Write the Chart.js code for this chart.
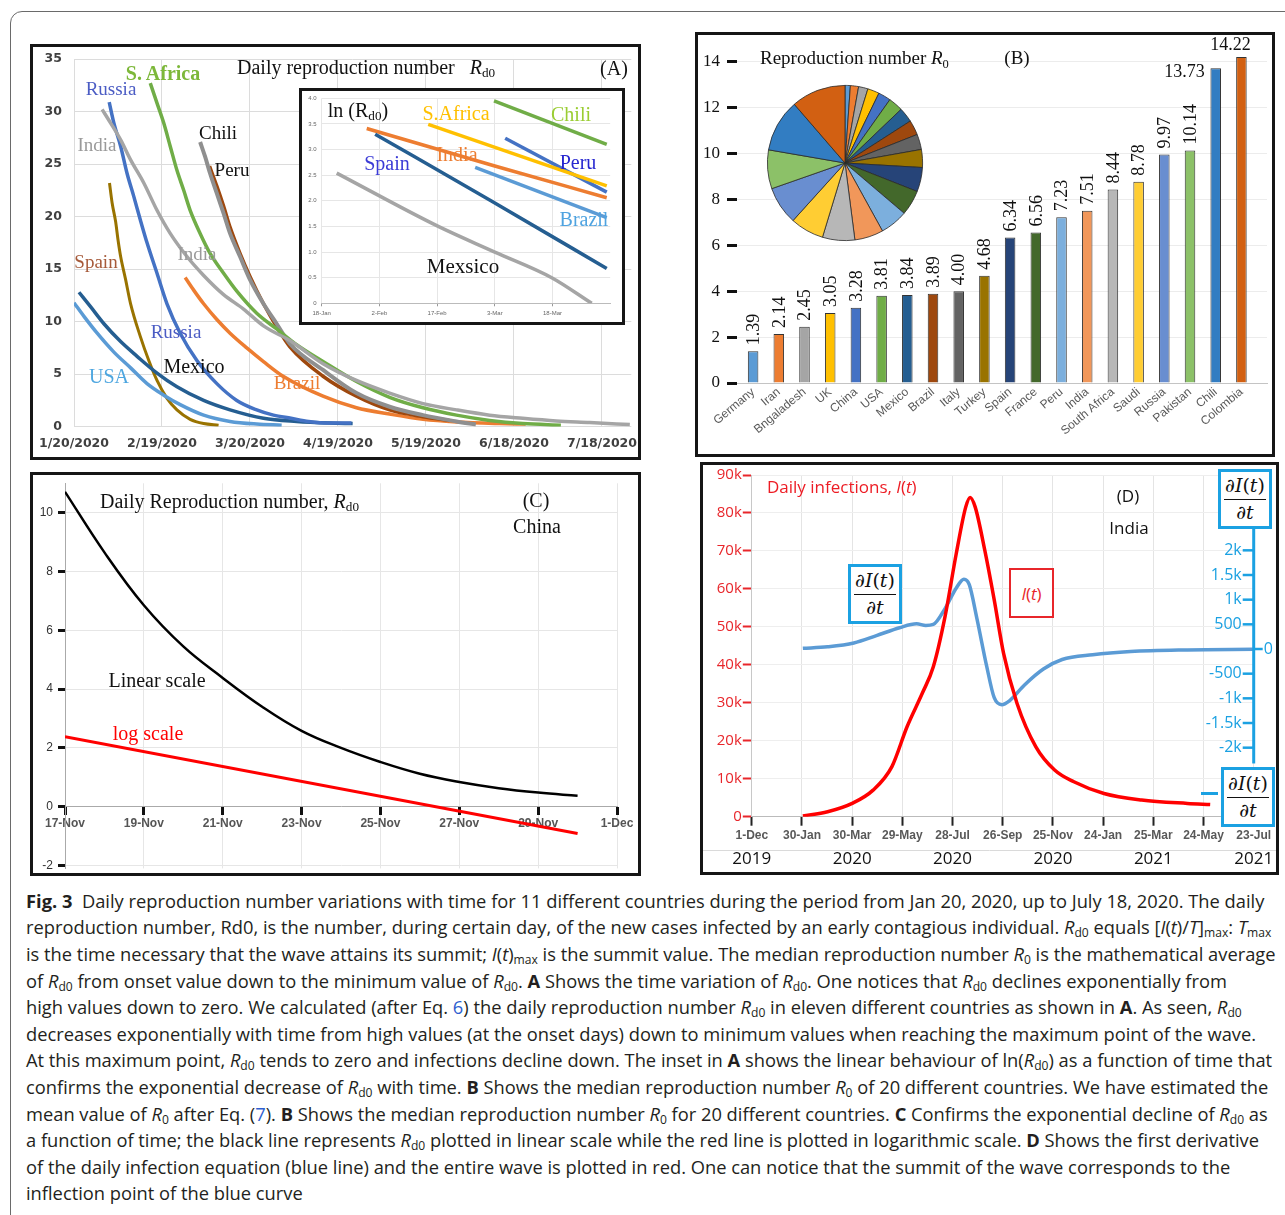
<!DOCTYPE html>
<html>
<head>
<meta charset="utf-8">
<title>Fig. 3 - daily reproduction number</title>
<script src="https://cdn.jsdelivr.net/npm/chart.js@4.4.1/dist/chart.umd.min.js"></script>
<style>
  html, body { margin: 0; padding: 0; background: #fff; }
  #page { position: relative; width: 1285px; height: 1215px; overflow: hidden; background: #fff; }
  .frame { position: absolute; left: 10px; top: 11px; width: 1320px; height: 1320px; border: 1px solid #6a6a6a; border-radius: 12px; }
  .panel { position: absolute; box-sizing: border-box; border: 3px solid #161616; background: #fff; }
  canvas { position: absolute; }
  .t { position: absolute; white-space: nowrap; line-height: 1; transform: translate(-50%, -50%); }
  .t sub, .cap sub { font-size: 0.66em; vertical-align: -0.28em; line-height: 0; }
  .frac { position: absolute; box-sizing: border-box; border: 3px solid #1ba1e2; background: #fff;
          display: flex; flex-direction: column; align-items: center; justify-content: center;
          font-family: "DejaVu Serif", serif; font-size: 19px; color: #111; line-height: 1; }
  .frac .fl { width: 86%; height: 1.5px; background: #111; margin: 4px 0 3px; }
  .box { position: absolute; box-sizing: border-box; border: 2.5px solid #e8262b; background: #fff;
         display: flex; align-items: center; justify-content: center;
         font-family: "Open Sans", sans-serif; font-size: 17px; color: #e8262b; }
  .cap { position: absolute; left: 26px; white-space: nowrap; line-height: 1; color: #231f20;
         font-family: "Open Sans", sans-serif; font-size: 19px; }
  .cap .ref { color: #2f5fd0; }
</style>
</head>
<body>
<div id="page">
  <div class="frame"></div>

  <div class="panel" style="left:30px;top:44px;width:611px;height:416px"></div>
  <canvas id="chartA" width="605" height="410" style="left:33px;top:47px"></canvas>
  <div class="panel" style="left:299px;top:88px;width:326px;height:237px"></div>
  <canvas id="chartInset" width="320" height="231" style="left:302px;top:91px"></canvas>

  <div class="panel" style="left:695px;top:32px;width:580px;height:425px"></div>
  <canvas id="chartB" width="574" height="419" style="left:698px;top:35px"></canvas>
  <canvas id="chartPie" width="158" height="158" style="left:766px;top:84px"></canvas>

  <div class="panel" style="left:30px;top:472px;width:611px;height:404px"></div>
  <canvas id="chartC" width="605" height="398" style="left:33px;top:475px"></canvas>

  <div class="panel" style="left:700px;top:462px;width:579px;height:413px"></div>
  <canvas id="chartD" width="573" height="407" style="left:703px;top:465px"></canvas>
</div>

<script>
// ---------- Panel A: daily reproduction number, days after 20 Jan 2020 ----------
const aTickDays = [0, 30, 60, 90, 120, 150, 180];
const aTickLabels = ["1/20/2020", "2/19/2020", "3/20/2020", "4/19/2020", "5/19/2020", "6/18/2020", "7/18/2020"];

const spainA = [[12.1,23.2],[13.0,21.3],[14.2,19.5],[15.0,17.8],[15.9,16.2],[17.6,14.0],[19.3,11.7],[22.6,8.6],[25.5,6.3],[28.3,4.4],[31.7,2.7],[35.1,1.6],[39.6,0.7],[44.2,0.3],[49.3,0.15]];
const russiaA = [[12.0,30.9],[13.6,28.9],[15.9,26.7],[18.1,24.1],[20.4,21.9],[22.6,19.7],[24.9,17.5],[28.3,14.6],[31.7,11.7],[36.2,8.9],[41.9,6.3],[48.7,4.1],[55.5,2.5],[62.3,1.6],[68,1.1],[74,0.8],[80,0.5],[87,0.35],[94.6,0.35]];
const mexicoA = [[1.7,12.8],[5.7,11.4],[10.2,9.8],[15.9,8.1],[21.5,6.7],[28.3,5.1],[35.1,3.8],[44.2,2.5],[53.2,1.6],[64.6,0.8],[75.9,0.5],[87.2,0.35],[95,0.3]];
const usaA = [[0,11.8],[3.4,10.5],[7.9,8.9],[13.6,7.1],[19.3,5.6],[24.9,4.1],[30.6,3.0],[36.2,2.1],[44.2,1.1],[53.2,0.5],[62.3,0.25],[70.8,0.15]];
const indiaA = [[9.6,30.2],[12.5,28.9],[15.9,27.3],[19.3,25.4],[23.8,23.2],[28.3,20.6],[32.8,18.4],[38.5,16.2],[44.2,14.4],[50.9,12.6],[57.8,11.2],[64.6,9.6],[73.6,8.2],[84.9,6.0],[96.3,4.4],[107.6,3.2],[119,2.2],[130.4,1.6],[141.7,1.1],[153,0.8],[164.4,0.55],[175.8,0.4],[189.5,0.2]];
const sAfricaA = [[26,32.7],[28.3,30.8],[30.6,28.9],[32.8,26.7],[35.1,24.4],[37.4,22.5],[39.6,20.6],[43,18.4],[46.4,16.5],[51,14.6],[55.5,12.9],[62.3,10.8],[69.1,9.3],[75.9,7.8],[84.9,6.2],[96.3,4.3],[107.6,2.8],[119,1.8],[130.4,1.1],[141.7,0.6],[153,0.3],[166,0.15]];
const chiliA = [[43,27.1],[44.7,25.7],[46.4,24.1],[48.7,22.2],[51,20.3],[53.2,18.4],[56.6,16.2],[60,14.0],[64.6,11.7],[69.1,9.8],[73.6,7.9],[84.9,5.4],[96.3,3.2],[107.6,1.9],[119,1.1],[130.4,0.5],[137,0.2]];
const peruA = [[46.2,24.8],[48.7,22.9],[51,21.0],[53.2,19.0],[56.6,16.5],[60,14.3],[64.6,11.7],[69.1,9.5],[73.6,7.6],[84.9,4.8],[96.3,2.9],[107.6,1.6],[119,0.95],[128,0.6]];
const brazilA = [[37.9,14.2],[40.8,13.0],[44.2,11.7],[48.7,10.2],[53.2,8.9],[58.9,7.5],[64.6,6.2],[71.3,4.8],[84.9,2.9],[96.3,1.8],[107.6,1.2],[119,0.7],[130.4,0.45],[145,0.3],[154,0.25]];

// ---------- Inset: ln(Rd0), days after 18 Jan ----------
const insetTickDays = [0, 15, 30, 45, 60];
const insetTickLabels = ["18-Jan", "2-Feb", "17-Feb", "3-Mar", "18-Mar"];
const lnMexico = [[3.9,2.54],[30.3,1.5],[45,1.0],[59.8,0.5],[70.2,0.0]];
const lnSpain = [[13.9,3.30],[44,2.0],[74.1,0.68]];
const lnIndia = [[11.7,3.41],[45,2.68],[74.1,2.06]];
const lnSAfrica = [[27.7,3.49],[74.1,2.29]];
const lnChili = [[44.8,3.95],[74.1,3.10]];
const lnPeru = [[47.7,3.22],[74.1,2.17]];
const lnBrazil = [[39.9,2.65],[74.1,1.67]];

// ---------- Panel B: median reproduction number R0 ----------
const countries = ["Germany", "Iran", "Bngaladesh", "UK", "China", "USA", "Mexico", "Brazil", "Italy", "Turkey",
  "Spain", "France", "Peru", "India", "South Africa", "Saudi", "Russia", "Pakistan", "Chili", "Colombia"];
const r0 = [1.39, 2.14, 2.45, 3.05, 3.28, 3.81, 3.84, 3.89, 4.00, 4.68,
  6.34, 6.56, 7.23, 7.51, 8.44, 8.78, 9.97, 10.14, 13.73, 14.22];
const barColors = ["#5b9bd5", "#ed7d31", "#a5a5a5", "#ffc000", "#4472c4", "#70ad47", "#255e91", "#9e480e", "#636363", "#997300",
  "#264478", "#43682b", "#7cafdd", "#f1975a", "#b7b7b7", "#ffcd33", "#698ed0", "#8cc168", "#327dc2", "#d26012"];
const bYTicks = [0, 2, 4, 6, 8, 10, 12, 14];

// ---------- Panel C: China, days after 17 Nov ----------
const cTickDays = [0, 2, 4, 6, 8, 10, 12, 14];
const cTickLabels = ["17-Nov", "19-Nov", "21-Nov", "23-Nov", "25-Nov", "27-Nov", "29-Nov", "1-Dec"];
const cYTicks = [-2, 0, 2, 4, 6, 8, 10];
const cLinear = [[0,10.71],[1,8.65],[2,6.85],[3,5.45],[4,4.38],[5,3.4],[6,2.58],[7,2.0],[8,1.52],[9,1.12],[10,0.84],[11,0.63],[12,0.48],[13,0.37]];
const cLog = [[0,2.38],[13,-0.91]];

// ---------- Panel D: India, days after 1 Dec 2019 ----------
const dTickDays = [0, 60, 120, 180, 240, 300, 360, 420, 480, 540, 600];
const dTickLabels = ["1-Dec", "30-Jan", "30-Mar", "29-May", "28-Jul", "26-Sep", "25-Nov", "24-Jan", "25-Mar", "24-May", "23-Jul"];
const dYearDays = [0, 120, 240, 360, 480, 600];
const dYearLabels = ["2019", "2020", "2020", "2020", "2021", "2021"];
const dYTicks = [0, 10000, 20000, 30000, 40000, 50000, 60000, 70000, 80000, 90000];
const dYLabels = ["0", "10k", "20k", "30k", "40k", "50k", "60k", "70k", "80k", "90k"];
const dRightTicks = [2000, 1500, 1000, 500, 0, -500, -1000, -1500, -2000];
const dRightLabels = ["2k", "1.5k", "1k", "500", "0", "-500", "-1k", "-1.5k", "-2k"];
const dInfections = [[61,200],[90.6,1300],[120,3500],[145,7000],[167.5,13200],[185.6,23700],[203.8,32500],[217,39500],[231,52700],[244.5,69400],[255.8,81600],[261,84100],[267,81600],[278.5,70200],[289.8,57100],[301,43000],[317,29900],[339.6,18400],[362,12300],[385,9200],[421,6100],[466,4400],[520.7,3500],[548,3200]];
const dDerivative = [[61,13],[90.6,45],[122,123],[149,271],[176.6,432],[197,510],[208,477],[217,497],[231,819],[244.5,1238],[253.6,1412],[260,1303],[269,626],[280.7,-342],[289.8,-987],[298.8,-1129],[308,-1051],[326,-729],[348.6,-406],[371,-213],[407.5,-116],[452.8,-52],[520.7,-19],[600,-6]];

// ---------- Helpers ----------
Chart.defaults.animation = false;
Chart.defaults.events = [];
Chart.defaults.responsive = false;
Chart.defaults.maintainAspectRatio = false;
Chart.defaults.plugins.legend.display = false;
Chart.defaults.plugins.tooltip.enabled = false;
Chart.defaults.font.family = '"Liberation Sans", Arial, sans-serif';
Chart.defaults.color = "#333";

const SERIF = '"Liberation Serif", "Times New Roman", serif';
const BLUE_AXIS = "#1ba1e2";

function pts(arr) {
  return arr.map(([x, y]) => ({ x, y }));
}
function curve(arr, color, width, extra) {
  return Object.assign({
    data: pts(arr), borderColor: color, borderWidth: width,
    pointRadius: 0, cubicInterpolationMode: "monotone", fill: false,
  }, extra || {});
}
function setTicks(vals) {
  return (s) => { s.ticks = vals.map((v) => ({ value: v })); };
}
function labelFrom(vals, labels) {
  return (v) => labels[vals.indexOf(v)];
}
function fixY(w) {
  return (s) => { s.width = w; s.paddingTop = 0; s.paddingBottom = 0; };
}
function fixX(h) {
  return (s) => { s.height = h; s.paddingLeft = 0; s.paddingRight = 0; };
}

// ---------- Panel A ----------
const aFont = { family: '"DejaVu Sans", sans-serif', weight: "bold", size: 12.5 };
new Chart(document.getElementById("chartA"), {
  type: "line",
  data: {
    datasets: [
      curve(indiaA, "#a5a5a5", 3.5),
      curve(sAfricaA, "#70ad47", 3.5),
      curve(chiliA, "#8f8f8f", 4),
      curve(peruA, "#9e480e", 3.5),
      curve(brazilA, "#ed7d31", 3.5),
      curve(russiaA, "#4472c4", 3.5),
      curve(mexicoA, "#255e91", 3.5),
      curve(usaA, "#5b9bd5", 3.5),
      curve(spainA, "#997300", 3),
    ],
  },
  options: {
    layout: { padding: { top: 12, right: 6.7, left: 0, bottom: 0 } },
    scales: {
      x: {
        type: "linear", min: 0, max: 190,
        afterBuildTicks: setTicks(aTickDays), afterFit: fixX(30.3),
        ticks: { callback: labelFrom(aTickDays, aTickLabels), font: aFont, color: "#404040", padding: 10, maxRotation: 0, autoSkip: false },
        grid: { color: "#dcdcdc", drawTicks: false }, border: { display: false },
      },
      y: {
        min: 0, max: 35, afterFit: fixY(41),
        ticks: { stepSize: 5, font: aFont, color: "#404040", padding: 12 },
        grid: { color: "#dcdcdc", drawTicks: false }, border: { display: false },
      },
    },
  },
});

// ---------- Inset ----------
const insetFont = { size: 6 };
new Chart(document.getElementById("chartInset"), {
  type: "line",
  data: {
    datasets: [
      curve(lnMexico, "#a5a5a5", 3.5),
      curve(lnSpain, "#255e91", 3.5),
      curve(lnIndia, "#ed7d31", 3.5),
      curve(lnBrazil, "#5b9bd5", 3.5),
      curve(lnSAfrica, "#ffc000", 3.5),
      curve(lnPeru, "#4472c4", 3.5),
      curve(lnChili, "#70ad47", 3.5),
    ],
  },
  options: {
    layout: { padding: { top: 7.3, right: 11.8, left: 0, bottom: 0 } },
    scales: {
      x: {
        type: "linear", min: 0, max: 75,
        afterBuildTicks: setTicks(insetTickDays), afterFit: fixX(18.7),
        ticks: { callback: labelFrom(insetTickDays, insetTickLabels), font: insetFont, color: "#666", padding: 3, maxRotation: 0, autoSkip: false },
        grid: { color: "#e6e6e6", tickColor: "#999", tickLength: 3 }, border: { color: "#bbb" },
      },
      y: {
        min: 0, max: 4, afterFit: fixY(19.7),
        ticks: { stepSize: 0.5, font: insetFont, color: "#666", padding: 5 },
        grid: { color: "#e6e6e6", drawTicks: false }, border: { display: false },
      },
    },
  },
});

// ---------- Panel B ----------
const barValueLabels = {
  id: "barValueLabels",
  afterDatasetsDraw(chart) {
    const ctx = chart.ctx;
    const bars = chart.getDatasetMeta(0).data;
    ctx.save();
    ctx.fillStyle = "#111";
    ctx.font = "18px " + SERIF;
    bars.forEach((bar, i) => {
      const txt = r0[i].toFixed(2);
      if (i < r0.length - 2) {
        ctx.save();
        ctx.translate(bar.x + 1, bar.y - 6);
        ctx.rotate(-Math.PI / 2);
        ctx.textAlign = "left";
        ctx.textBaseline = "middle";
        ctx.fillText(txt, 0, 0);
        ctx.restore();
      } else if (i === r0.length - 2) {
        ctx.textAlign = "right";
        ctx.textBaseline = "middle";
        ctx.fillText(txt, bar.x - 11, bar.y + 4);
      } else {
        ctx.textAlign = "center";
        ctx.textBaseline = "middle";
        ctx.fillText(txt, bar.x - 11, bar.y - 12);
      }
    });
    ctx.restore();
  },
};

new Chart(document.getElementById("chartB"), {
  type: "bar",
  data: {
    datasets: [{
      data: r0.map((v, i) => ({ x: i, y: v })),
      backgroundColor: barColors, borderColor: "#333", borderWidth: 1,
      barPercentage: 0.41, categoryPercentage: 1, clip: false,
    }],
  },
  options: {
    layout: { padding: { top: 4.05, right: 5, left: 0, bottom: 0 } },
    scales: {
      x: {
        type: "linear", min: -0.111, max: 19.48,
        afterBuildTicks: setTicks(countries.map((_, i) => i)), afterFit: fixX(71),
        ticks: { callback: (v) => countries[v], font: { size: 12 }, color: "#595959", padding: 2, minRotation: 40, maxRotation: 40, autoSkip: false },
        grid: { display: false, drawTicks: false }, border: { color: "#c4c4c4" },
      },
      y: {
        min: 0, max: 15, afterBuildTicks: setTicks(bYTicks), afterFit: fixY(39),
        ticks: { font: { family: SERIF, size: 17 }, color: "#111", padding: 7 },
        grid: { color: "#ececec", tickColor: "#111", tickWidth: 3, tickLength: 10 }, border: { display: false },
      },
    },
  },
  plugins: [barValueLabels],
});

new Chart(document.getElementById("chartPie"), {
  type: "pie",
  data: {
    labels: countries,
    datasets: [{ data: r0, backgroundColor: barColors, borderColor: "#2a2a2a", borderWidth: 0.8 }],
  },
  options: { layout: { padding: 1 } },
});

// ---------- Panel C ----------
const cTickFont = { weight: "bold", size: 12 };
new Chart(document.getElementById("chartC"), {
  type: "line",
  data: {
    datasets: [
      // smooth bezier through the read points instead of monotone, which kinks here
      curve(cLinear, "#000", 2.5, { cubicInterpolationMode: "default", tension: 0.4 }),
      curve(cLog, "#ff0000", 3, { cubicInterpolationMode: "default", tension: 0 }),
    ],
  },
  options: {
    layout: { padding: { top: 8.3, right: 21, left: 0, bottom: 4.6 } },
    scales: {
      x: {
        type: "linear", min: 0, max: 14, position: { y: 0 },
        afterBuildTicks: setTicks(cTickDays),
        ticks: { callback: labelFrom(cTickDays, cTickLabels), font: cTickFont, color: "#555", padding: 2, maxRotation: 0, autoSkip: false },
        grid: { color: "#e6e6e6", tickColor: "#111", tickWidth: 3, tickLength: 8 }, border: { color: "#aaa" },
      },
      y: {
        min: -2.1, max: 11, afterBuildTicks: setTicks(cYTicks), afterFit: fixY(32),
        ticks: { font: { size: 12 }, color: "#333", padding: 5 },
        grid: { color: "#e6e6e6", tickColor: "#111", tickWidth: 3, tickLength: 7 }, border: { color: "#aaa" },
      },
    },
  },
});

// ---------- Panel D ----------
const dExtras = {
  id: "dExtras",
  afterDraw(chart) {
    const { ctx, chartArea, scales } = chart;
    const xs = scales.x, y2 = scales.y2;
    ctx.save();
    // thin separator under the date labels and the year row
    ctx.strokeStyle = "#dadada";
    ctx.lineWidth = 1;
    ctx.beginPath();
    ctx.moveTo(0, 385.5);
    ctx.lineTo(chart.width, 385.5);
    ctx.stroke();
    ctx.fillStyle = "#111";
    ctx.font = '17px "Open Sans", sans-serif';
    ctx.textAlign = "center";
    ctx.textBaseline = "middle";
    dYearDays.forEach((d, i) => ctx.fillText(dYearLabels[i], xs.getPixelForValue(d), 394));

    // right-hand axis for dI/dt
    const ax = chartArea.right;
    ctx.strokeStyle = BLUE_AXIS;
    ctx.fillStyle = BLUE_AXIS;
    ctx.lineWidth = 3;
    ctx.beginPath();
    ctx.moveTo(ax, y2.getPixelForValue(2480));
    ctx.lineTo(ax, y2.getPixelForValue(-2320));
    ctx.stroke();
    ctx.font = '16px "Open Sans", sans-serif';
    ctx.textBaseline = "middle";
    dRightTicks.forEach((v, i) => {
      const y = y2.getPixelForValue(v);
      ctx.lineWidth = 2.5;
      ctx.beginPath();
      if (v === 0) {
        ctx.moveTo(ax, y);
        ctx.lineTo(ax + 9, y);
        ctx.stroke();
        ctx.textAlign = "left";
        ctx.fillText(dRightLabels[i], ax + 10, y);
      } else {
        ctx.moveTo(ax - 11, y);
        ctx.lineTo(ax, y);
        ctx.stroke();
        ctx.textAlign = "right";
        ctx.fillText(dRightLabels[i], ax - 12, y);
      }
    });
    ctx.restore();
  },
};

new Chart(document.getElementById("chartD"), {
  type: "line",
  data: {
    datasets: [
      curve(dInfections, "#ff0000", 3.5, { yAxisID: "y" }),
      curve(dDerivative, "#5b9bd5", 3.5, { yAxisID: "y2" }),
    ],
  },
  options: {
    layout: { padding: { top: 10, right: 22.3, left: 0, bottom: 0 } },
    scales: {
      x: {
        type: "linear", min: 0, max: 600,
        afterBuildTicks: setTicks(dTickDays), afterFit: fixX(55.3),
        ticks: { callback: labelFrom(dTickDays, dTickLabels), font: { weight: "bold", size: 12 }, color: "#595959", padding: 3, maxRotation: 0, autoSkip: false },
        grid: { color: "#e4e4e4", tickColor: "#222", tickWidth: 2, tickLength: 9 }, border: { color: "#bbb" },
      },
      y: {
        min: 0, max: 90000, afterBuildTicks: setTicks(dYTicks), afterFit: fixY(48.8),
        ticks: { callback: labelFrom(dYTicks, dYLabels), font: { family: '"Open Sans", sans-serif', size: 15 }, color: "#e8262b", padding: 1 },
        grid: { color: "#eeeeee", tickColor: "#e8262b", tickWidth: 2, tickLength: 9 }, border: { color: "#c8c8c8" },
      },
      y2: { display: false, min: -3399, max: 3527 },
    },
  },
  plugins: [dExtras],
});

// ---------- Text annotations ----------
const page = document.getElementById("page");
function note(html, x, y, font, color, left) {
  const d = document.createElement("div");
  d.className = "t";
  d.innerHTML = html;
  d.style.left = x + "px";
  d.style.top = y + "px";
  d.style.font = font;
  d.style.color = color || "#111";
  if (left) d.style.transform = "translate(0,-50%)";
  page.appendChild(d);
  return d;
}
const S20 = "20px " + SERIF, S19 = "19px " + SERIF;

// panel A
note("Daily reproduction number&nbsp;&nbsp; <i>R</i><sub>d0</sub>", 237, 67, S20, "#111", true);
note("(A)", 614, 68, S20);
note("S. Africa", 163, 73, "bold 20px " + SERIF, "#7db83a");
note("Russia", 111, 89, S19, "#4b5cc4");
note("India", 97, 145, S19, "#9a9a9a");
note("Chili", 218, 133, S19);
note("Peru", 232, 170, S19);
note("Spain", 96, 262, S19, "#a65a3a");
note("India", 197, 254, S19, "#9a9a9a");
note("Russia", 176, 332, S19, "#4b5cc4");
note("Mexico", 194, 366, S20);
note("USA", 109, 376, S20, "#4da6e0");
note("Brazil", 297, 383, S19, "#ed7d31");

// inset
note("ln (R<sub>d0</sub>)", 358, 110, S20);
note("S.Africa", 456, 113, S20, "#ffc000");
note("Chili", 571, 114, S20, "#9acd32");
note("Spain", 387, 163, S20, "#3b3bd6");
note("India", 457, 154, S20, "#ed7d31");
note("Peru", 578, 162, S20, "#2727d0");
note("Brazil", 584, 219, S20, "#4fa3e0");
note("Mexsico", 463, 266, "21px " + SERIF);

// panel B
note("Reproduction number <i>R</i><sub>0</sub>", 760, 58, S19, "#111", true);
note("(B)", 1017, 58, S19);

// panel C
note("Daily Reproduction number, <i>R</i><sub>d0</sub>", 100, 501, S20, "#111", true);
note("(C)", 536, 500, S20);
note("China", 537, 526, S20);
note("Linear scale", 157, 680, S20);
note("log scale", 148, 733, S20, "#ff0000");

// panel D
const OS17 = '17px "Open Sans", sans-serif';
note("Daily infections, <i>I</i>(<i>t</i>)", 767, 486, OS17, "#ed1c24", true);
note("(D)", 1128, 495, OS17);
note("India", 1129, 527, OS17);

function frac(x, y, w, h) {
  const d = document.createElement("div");
  d.className = "frac";
  d.style.cssText += `left:${x}px;top:${y}px;width:${w}px;height:${h}px`;
  d.innerHTML = '<div><i>∂I</i>(<i>t</i>)</div><div class="fl"></div><div><i>∂t</i></div>';
  page.appendChild(d);
}
frac(848, 564, 54, 60);
frac(1218, 469, 54, 60);
frac(1221, 767, 54, 60);

const itBox = document.createElement("div");
itBox.className = "box";
itBox.style.cssText += "left:1009px;top:568px;width:45px;height:50px";
itBox.innerHTML = "<i>I</i>(<i>t</i>)";
page.appendChild(itBox);

const dash = document.createElement("div");
dash.style.cssText = `position:absolute;left:1201px;top:792px;width:17px;height:3px;background:${BLUE_AXIS}`;
page.appendChild(dash);

// ---------- Caption ----------
const R = (s) => `<i>R</i><sub>${s}</sub>`;
const capLines = [
  `<b>Fig. 3</b>&nbsp; Daily reproduction number variations with time for 11 different countries during the period from Jan 20, 2020, up to July 18, 2020. The daily`,
  `reproduction number, Rd0, is the number, during certain day, of the new cases infected by an early contagious individual. ${R("d0")} equals [<i>I</i>(<i>t</i>)/<i>T</i>]<sub>max</sub>: <i>T</i><sub>max</sub>`,
  `is the time necessary that the wave attains its summit; <i>I</i>(<i>t</i>)<sub>max</sub> is the summit value. The median reproduction number ${R("0")} is the mathematical average`,
  `of ${R("d0")} from onset value down to the minimum value of ${R("d0")}. <b>A</b> Shows the time variation of ${R("d0")}. One notices that ${R("d0")} declines exponentially from`,
  `high values down to zero. We calculated (after Eq. <span class="ref">6</span>) the daily reproduction number ${R("d0")} in eleven different countries as shown in <b>A</b>. As seen, ${R("d0")}`,
  `decreases exponentially with time from high values (at the onset days) down to minimum values when reaching the maximum point of the wave.`,
  `At this maximum point, ${R("d0")} tends to zero and infections decline down. The inset in <b>A</b> shows the linear behaviour of ln(${R("d0")}) as a function of time that`,
  `confirms the exponential decrease of ${R("d0")} with time. <b>B</b> Shows the median reproduction number ${R("0")} of 20 different countries. We have estimated the`,
  `mean value of ${R("0")} after Eq. (<span class="ref">7</span>). <b>B</b> Shows the median reproduction number ${R("0")} for 20 different countries. <b>C</b> Confirms the exponential decline of ${R("d0")} as`,
  `a function of time; the black line represents ${R("d0")} plotted in linear scale while the red line is plotted in logarithmic scale. <b>D</b> Shows the first derivative`,
  `of the daily infection equation (blue line) and the entire wave is plotted in red. One can notice that the summit of the wave corresponds to the`,
  `inflection point of the blue curve`,
];
const capDivs = capLines.map((html) => {
  const d = document.createElement("div");
  d.className = "cap";
  d.innerHTML = html;
  page.appendChild(d);
  return d;
});
// size the caption font so the first line spans the same width as in the figure
const fs = 19 * 1239 / capDivs[0].offsetWidth;
capDivs.forEach((d, i) => {
  d.style.fontSize = fs + "px";
  d.style.top = (902 + 26.6 * i - fs / 2 - 1) + "px";
});
</script>
</body>
</html>
